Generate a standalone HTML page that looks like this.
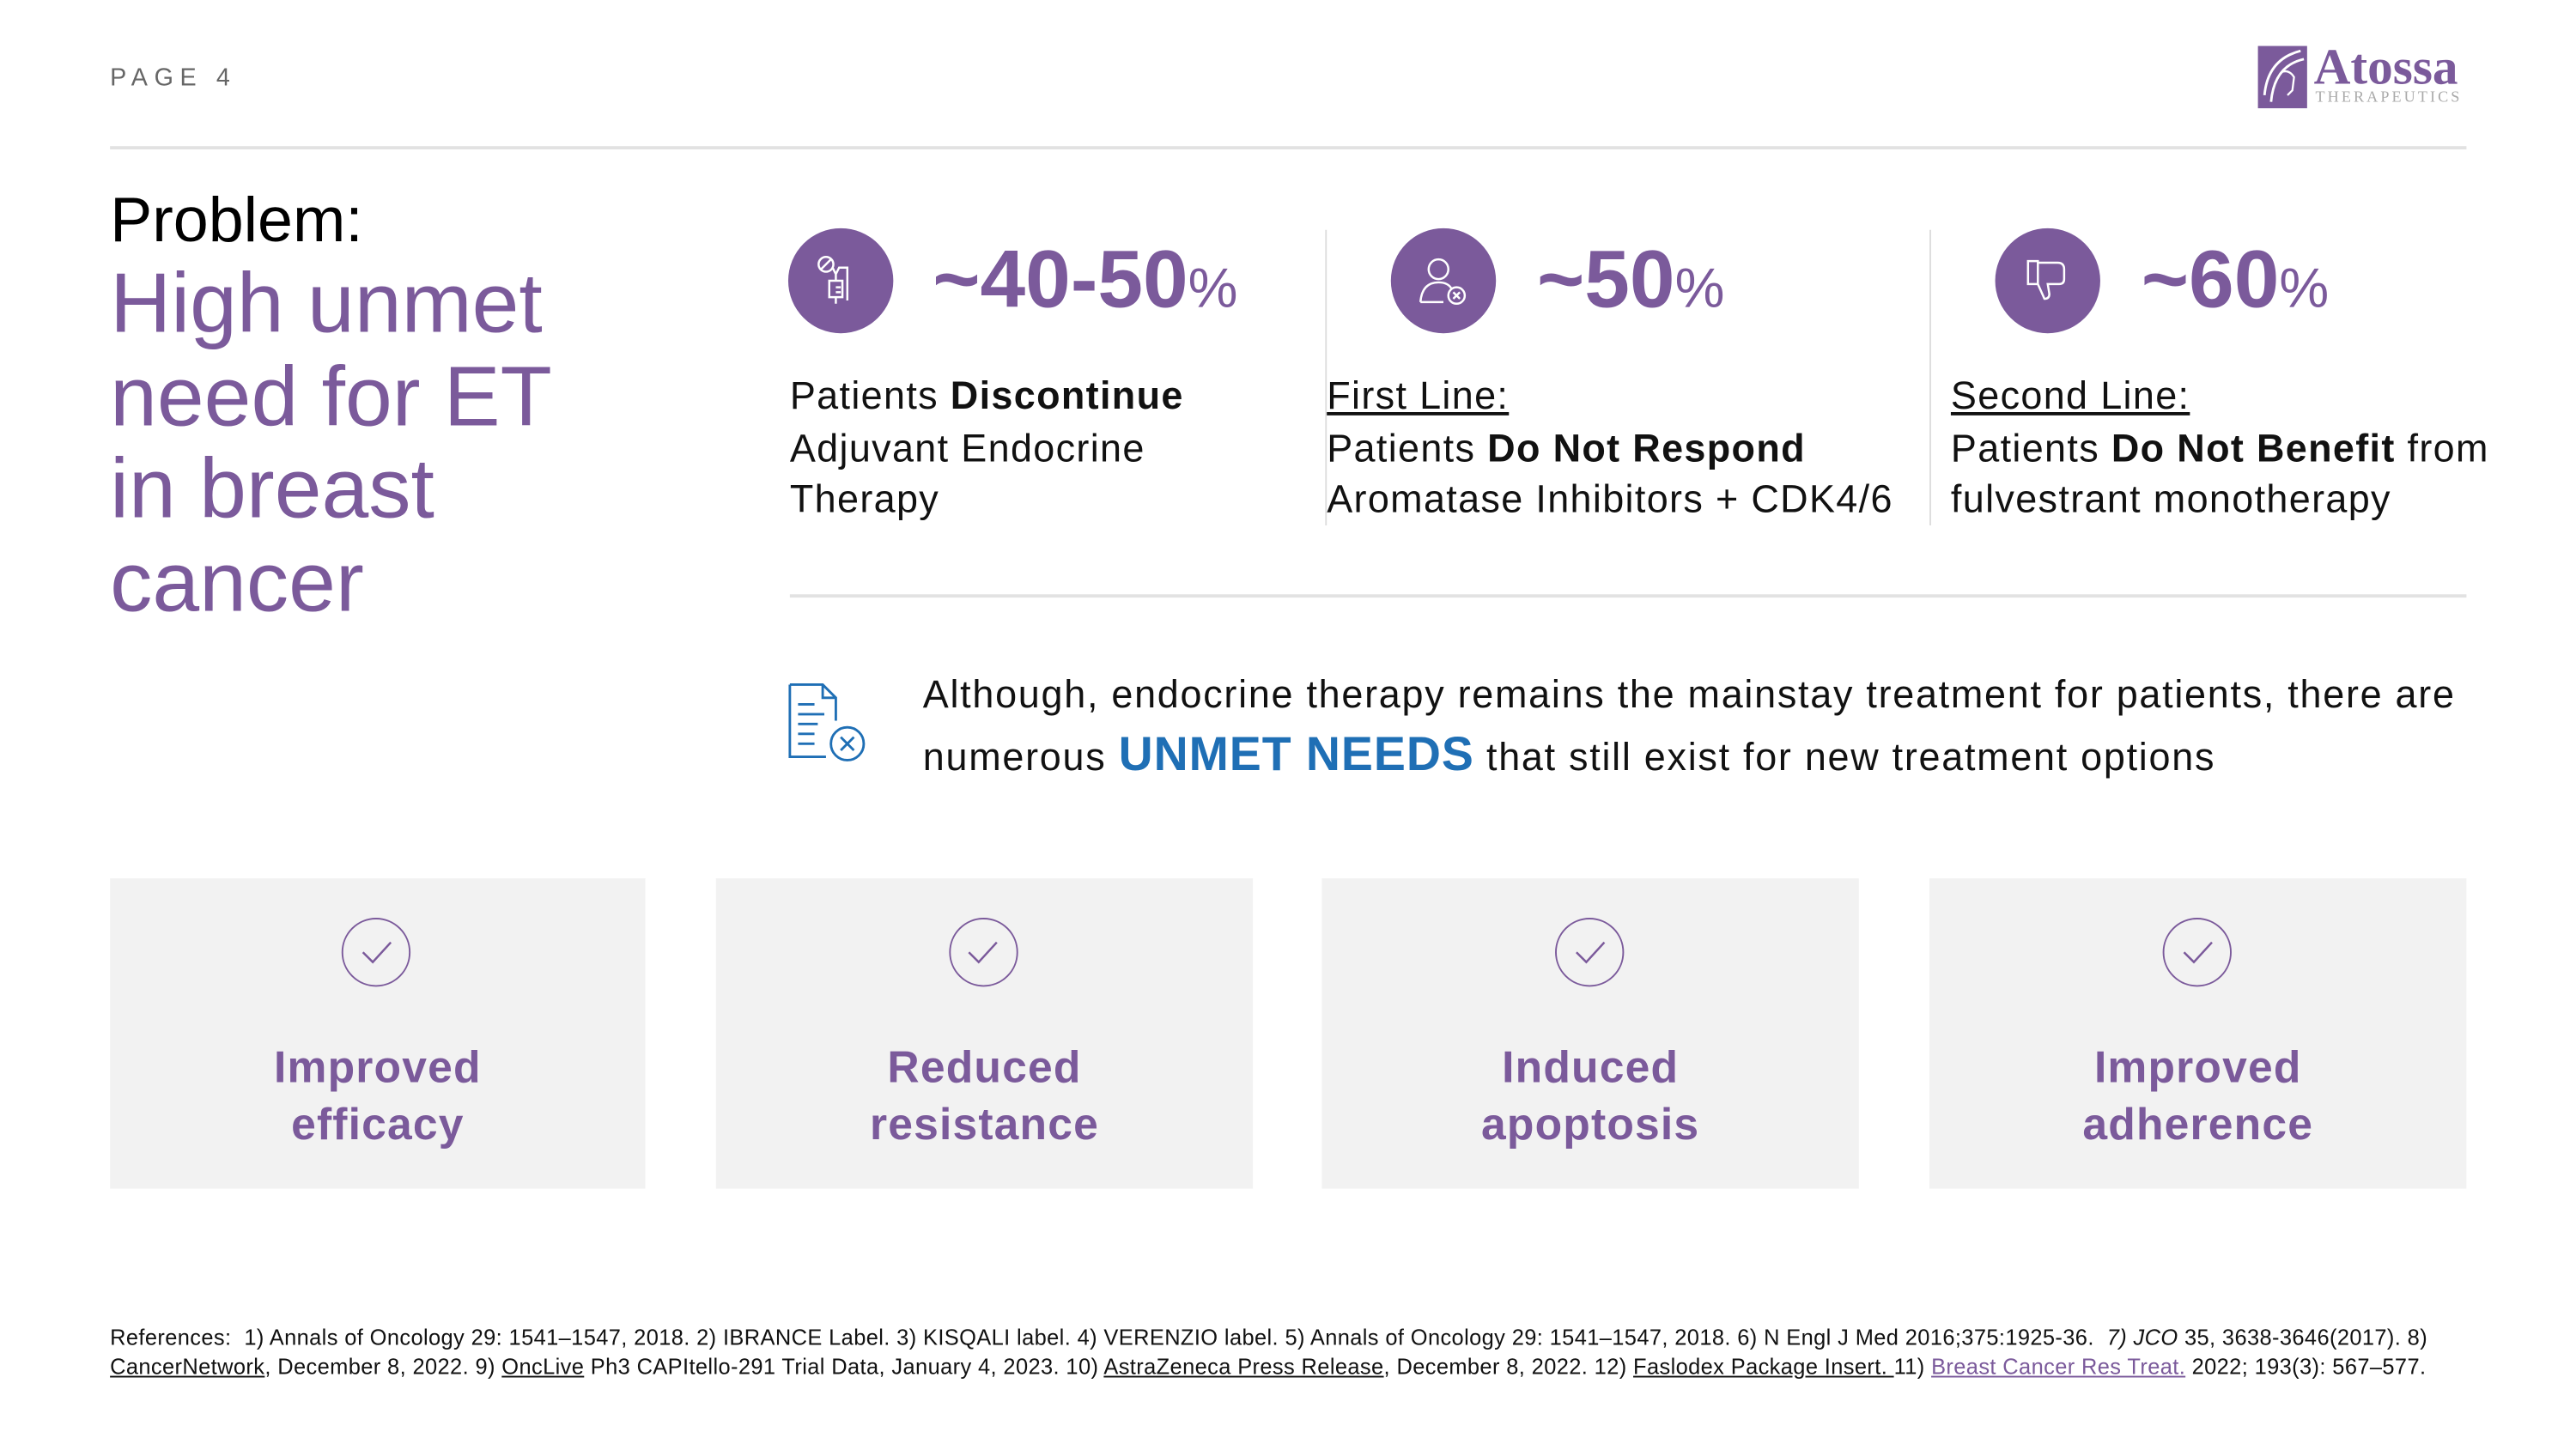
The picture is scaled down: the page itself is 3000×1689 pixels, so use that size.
<!DOCTYPE html>
<html><head><meta charset="utf-8"><style>
html,body{margin:0;padding:0;background:#fff;}
body{width:3000px;height:1687px;overflow:hidden;}
#s{position:absolute;left:0;top:0;width:1570px;height:883px;transform:scale(1.9124);transform-origin:0 0;font-family:"Liberation Sans",sans-serif;}
.a{position:absolute;white-space:nowrap;}
.p{color:#7B5A9B;}
.circ{position:absolute;width:64px;height:64px;border-radius:50%;background:#7B5A9B;}
.big{font-size:49.5px;font-weight:bold;color:#7B5A9B;}
.big span{font-size:34px;font-weight:normal;}
.t{font-size:23.5px;color:#111;line-height:31.5px;letter-spacing:0.7px;}
.box{position:absolute;top:535px;height:189px;background:#F2F2F2;}
.box .ck{position:absolute;left:50%;top:24px;margin-left:-22px;width:42px;height:42px;border:1.5px solid #7B5A9B;border-radius:50%;box-sizing:border-box;}
.box .lb{position:absolute;left:0;right:0;top:98px;text-align:center;font-size:27px;font-weight:bold;color:#7B5A9B;line-height:35px;letter-spacing:0.6px;}
.vl{position:absolute;top:140px;height:180px;width:1px;background:#ddd;}
.ref{font-size:13.3px;color:#111;line-height:18px;letter-spacing:0.2px;}
u{text-decoration:underline;}
</style></head><body><div id="s">
<div class="a" style="left:67px;top:39px;font-size:15px;letter-spacing:4px;color:#666;">PAGE 4</div>
<svg class="a" style="left:1375px;top:28px" width="30" height="38"><rect width="30" height="38" fill="#7B5A9B"/><path d="M4 30 Q6 8 26 3 M8 34 Q10 12 28 8" stroke="#fff" stroke-width="1.5" fill="none"/><path d="M14 16 q5 -2 8 3 l-1 8 l-3 3" stroke="#fff" stroke-width="1.2" fill="none"/></svg>
<div class="a" style="left:1409px;top:23px;font-family:'Liberation Serif',serif;font-weight:bold;font-size:31px;color:#7B5A9B;">Atossa</div>
<div class="a" style="left:1410px;top:55px;font-family:'Liberation Serif',serif;font-size:9.5px;letter-spacing:1.6px;color:#aaa;">THERAPEUTICS</div>
<div class="a" style="left:67px;top:89px;width:1435px;height:1.5px;background:#e2e2e2;"></div>
<div class="a" style="left:67px;top:113px;font-size:38.5px;color:#000;">Problem:</div>
<div class="a p" style="left:67px;top:156px;font-size:51.5px;line-height:56.5px;">High unmet<br>need for ET<br>in breast<br>cancer</div>

<div class="circ" style="left:480px;top:139px;"></div>
<svg class="a" style="left:496px;top:154px" width="34" height="34" stroke="#fff" fill="none" stroke-width="1.3"><circle cx="7" cy="7" r="4.5"/><path d="M4 10 L10 4 M11 9 L13 13 L15 9 L20 9 L20 29 M13 13 v4 M9 17 h8 v10 h-8z M13 27 v4 M13 21 h3 M13 24 h3"/></svg>
<div class="a big" style="left:568px;top:142px;">~40-50<span>%</span></div>
<div class="a t" style="left:481px;top:226px;">Patients <b>Discontinue</b><br>Adjuvant Endocrine<br>Therapy</div>
<div class="vl" style="left:807px"></div>

<div class="circ" style="left:847px;top:139px;"></div>
<svg class="a" style="left:862px;top:154px" width="34" height="34" stroke="#fff" fill="none" stroke-width="1.3"><circle cx="14" cy="10" r="6"/><path d="M3 30 Q4 18 14 18 Q20 18 22 22 M3 30 h14"/><circle cx="25" cy="26" r="5"/><path d="M23 24 l4 4 M27 24 l-4 4"/></svg>
<div class="a big" style="left:936px;top:142px;">~50<span>%</span></div>
<div class="a t" style="left:808px;top:226px;"><u>First Line:</u><br>Patients <b>Do Not Respond</b><br>Aromatase Inhibitors + CDK4/6</div>
<div class="vl" style="left:1175px"></div>

<div class="circ" style="left:1215px;top:139px;"></div>
<svg class="a" style="left:1231px;top:155px" width="34" height="34" stroke="#fff" fill="none" stroke-width="1.3"><path d="M4 4 h6 v14 h-6z M10 5 h12 q4 0 4 4 v6 q0 3 -3 3 h-7 l1 6 q0 3 -3 3 l-4 -9"/></svg>
<div class="a big" style="left:1304px;top:142px;">~60<span>%</span></div>
<div class="a t" style="left:1188px;top:226px;"><u>Second Line:</u><br>Patients <b>Do Not Benefit</b> from<br>fulvestrant monotherapy</div>

<div class="a" style="left:481px;top:362px;width:1021px;height:1.5px;background:#e2e2e2;"></div>
<svg class="a" style="left:478px;top:415px" width="52" height="52" stroke="#1F6FB5" fill="none" stroke-width="1.5"><path d="M3 2 h20 l8 8 v14 M23 2 v8 h8 M3 2 v44 h22"/><path d="M8 14 h10 M8 20 h16 M8 26 h12 M8 32 h10 M8 38 h10"/><circle cx="38" cy="38" r="10"/><path d="M34 34 l8 8 M42 34 l-8 8"/></svg>
<div class="a t" style="left:562px;top:405px;line-height:37px;letter-spacing:0.9px;">Although, endocrine therapy remains the mainstay treatment for patients, there are<br>numerous <b style="color:#1F6FB5;font-size:29px;letter-spacing:0.5px;">UNMET NEEDS</b> that still exist for new treatment options</div>

<div class="box" style="left:67px;width:326px;"><div class="ck"></div><div class="lb">Improved<br>efficacy</div></div>
<div class="box" style="left:436px;width:327px;"><div class="ck"></div><div class="lb">Reduced<br>resistance</div></div>
<div class="box" style="left:805px;width:327px;"><div class="ck"></div><div class="lb">Induced<br>apoptosis</div></div>
<div class="box" style="left:1175px;width:327px;"><div class="ck"></div><div class="lb">Improved<br>adherence</div></div>
<svg class="a" style="left:0;top:0" width="1560" height="877" stroke="#7B5A9B" fill="none" stroke-width="1.3"><path d="M221 580 l6 6 l11 -12 M590 580 l6 6 l11 -12 M960 580 l6 6 l11 -12 M1330 580 l6 6 l11 -12"/></svg>

<div class="a ref" style="left:67px;top:806px;">References:&nbsp; 1) Annals of Oncology 29: 1541–1547, 2018. 2) IBRANCE Label. 3) KISQALI label. 4) VERENZIO label. 5) Annals of Oncology 29: 1541–1547, 2018. 6) N Engl J Med 2016;375:1925-36.&nbsp; <i>7) JCO</i> 35, 3638-3646(2017). 8)<br><u>CancerNetwork</u>, December 8, 2022. 9) <u>OncLive</u> Ph3 CAPItello-291 Trial Data, January 4, 2023. 10) <u>AstraZeneca Press Release</u>, December 8, 2022. 12) <u>Faslodex Package Insert. </u> 11) <u style="color:#7B5A9B">Breast Cancer Res Treat.</u> 2022; 193(3): 567–577.</div>
</div></body></html>
